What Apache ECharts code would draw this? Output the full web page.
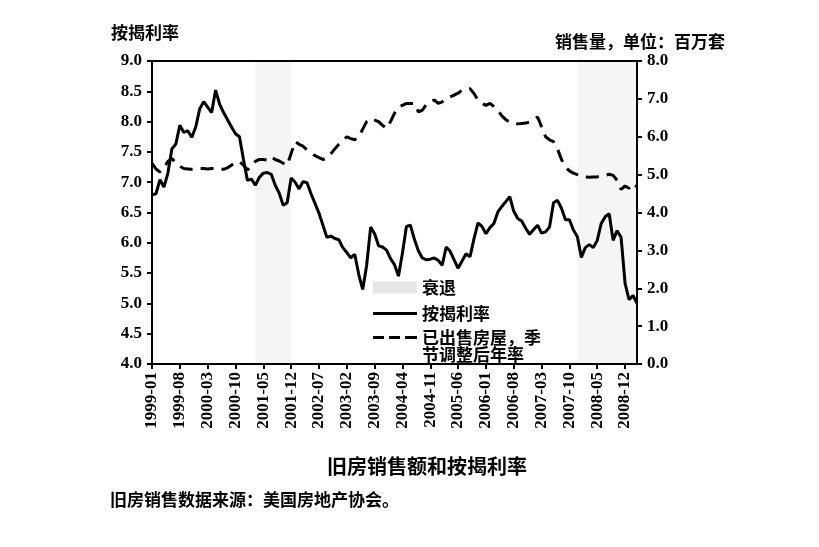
<!DOCTYPE html>
<html>
<head>
<meta charset="utf-8">
<script src="https://cdn.jsdelivr.net/npm/echarts@6/dist/echarts.min.js"></script>
<style>
  html, body { margin: 0; padding: 0; background: #fff; }
  #chart { width: 819px; height: 547px; }
</style>
</head>
<body>
<div id="chart"></div>
<script>
// 月份 1999-01 .. 2009-03
const months = [];
for (let y = 1999; y <= 2009; y++) {
  for (let m = 1; m <= 12; m++) {
    if (y === 2009 && m > 3) break;
    months.push(y + '-' + (m < 10 ? '0' + m : m));
  }
}

// 按揭利率 (%)
const mortgageRate = [
  6.79, 6.81, 7.04, 6.92, 7.15, 7.55, 7.63, 7.94, 7.82, 7.85, 7.74, 7.91,
  8.21, 8.33, 8.24, 8.15, 8.52, 8.29, 8.15, 8.03, 7.91, 7.80, 7.75, 7.38,
  7.03, 7.05, 6.95, 7.08, 7.15, 7.16, 7.13, 6.95, 6.82, 6.62, 6.66, 7.07,
  7.00, 6.89, 7.01, 6.99, 6.81, 6.65, 6.49, 6.29, 6.09, 6.11, 6.07, 6.05,
  5.92, 5.84, 5.75, 5.81, 5.48, 5.23, 5.63, 6.26, 6.15, 5.95, 5.93, 5.88,
  5.74, 5.64, 5.45, 5.83, 6.27, 6.29, 6.06, 5.87, 5.75, 5.72, 5.73, 5.75,
  5.71, 5.63, 5.93, 5.86, 5.72, 5.58, 5.70, 5.82, 5.77, 6.07, 6.33, 6.27,
  6.15, 6.25, 6.32, 6.51, 6.60, 6.68, 6.76, 6.52, 6.40, 6.36, 6.24, 6.14,
  6.22, 6.29, 6.16, 6.18, 6.26, 6.66, 6.70, 6.57, 6.38, 6.38, 6.21, 6.10,
  5.76, 5.92, 5.97, 5.92, 6.04, 6.32, 6.43, 6.48, 6.04, 6.20, 6.09, 5.33,
  5.06, 5.13, 5.00
];

// 已出售房屋，季节调整后年率 (百万套)
const homeSales = [
  5.30, 5.15, 5.07, 5.18, 5.35, 5.43, 5.30, 5.22, 5.16, 5.15, 5.14, 5.15,
  5.16, 5.16, 5.15, 5.16, 5.16, 5.14, 5.14, 5.18, 5.25, 5.32, 5.34, 5.25,
  5.12, 5.25, 5.35, 5.40, 5.40, 5.38, 5.47, 5.40, 5.36, 5.30, 5.25, 5.56,
  5.87, 5.80, 5.75, 5.65, 5.58, 5.50, 5.45, 5.40, 5.43, 5.55, 5.68, 5.80,
  5.90, 6.00, 5.95, 5.92, 6.00, 6.20, 6.40, 6.48, 6.44, 6.40, 6.30, 6.22,
  6.40, 6.62, 6.78, 6.83, 6.88, 6.88, 6.88, 6.66, 6.70, 6.85, 6.92, 6.97,
  6.88, 6.92, 7.01, 7.05, 7.10, 7.15, 7.23, 7.26, 7.27, 7.14, 6.97, 6.88,
  6.83, 6.88, 6.80, 6.70, 6.55, 6.45, 6.39, 6.35, 6.34, 6.35, 6.36, 6.39,
  6.44, 6.52, 6.26, 6.00, 5.92, 5.87, 5.68, 5.40, 5.20, 5.10, 5.04, 5.00,
  4.97, 4.94, 4.93, 4.94, 4.94, 4.96, 4.98, 5.01, 4.98, 4.85, 4.61, 4.70,
  4.64, 4.77, 4.68
];

// 衰退区间
const recessions = [
  ['2001-03', '2001-12'],
  ['2007-12', '2009-03']
];

const cjk = '"Noto Sans CJK SC", sans-serif';
const serif = '"Liberation Serif", "DejaVu Serif", serif';
const legendText = { fontFamily: cjk, fontSize: 17, fontWeight: 'bold', color: '#000', lineHeight: 17 };

const chart = echarts.init(document.getElementById('chart'));

chart.setOption({
  animation: false,
  backgroundColor: '#fff',
  grid: {
    left: 152, right: 182, top: 61, bottom: 183,
    show: true, borderColor: '#000', borderWidth: 2, backgroundColor: 'transparent'
  },
  title: {
    text: '旧房销售额和按揭利率',
    left: 422, top: 451, textAlign: 'center',
    textStyle: { fontFamily: cjk, fontSize: 20, fontWeight: 'bold', color: '#000' }
  },
  graphic: [{
    type: 'text', left: 110, top: 491,
    style: { text: '旧房销售数据来源：美国房地产协会。', font: 'bold 17px ' + cjk, fill: '#000' }
  }],
  legend: [{
    orient: 'vertical', left: 373, top: 279, padding: 0,
    itemWidth: 44, itemHeight: 12, itemGap: 9,
    data: [
      { name: '衰退', icon: 'rect', itemStyle: { color: '#e6e6e6' } },
      { name: '按揭利率', icon: 'path://M0,0H44V3H0Z' }
    ],
    textStyle: legendText
  }, {
    // 首行留空，使虚线图例与第一行文字对齐
    orient: 'vertical', left: 373, top: 312, padding: 0,
    itemWidth: 44, itemHeight: 12,
    data: [{
      name: '已出售房屋，季节调整后年率',
      icon: 'path://M0,0h11v3h-11z M16,0h11v3h-11z M32,0h12v3h-12z'
    }],
    formatter: () => ' \n已出售房屋，季\n节调整后年率',
    textStyle: legendText
  }],
  xAxis: {
    type: 'category', data: months, boundaryGap: false,
    axisLine: { lineStyle: { color: '#000', width: 2 } },
    axisTick: { interval: 6, length: 5, lineStyle: { color: '#000', width: 2 } },
    axisLabel: {
      interval: 6, rotate: 90, margin: 8,
      fontFamily: serif, fontSize: 17, fontWeight: 'bold', color: '#000'
    },
    splitLine: { show: false }
  },
  yAxis: [{
    type: 'value', min: 4, max: 9, interval: 0.5, position: 'left',
    name: '按揭利率', nameGap: 20,
    nameTextStyle: { fontFamily: cjk, fontSize: 17, fontWeight: 'bold', color: '#000', padding: [0, 14, 0, 0] },
    axisLine: { show: true, lineStyle: { color: '#000', width: 2 } },
    axisTick: { show: true, length: 5, lineStyle: { color: '#000', width: 2 } },
    axisLabel: {
      margin: 10, formatter: v => v.toFixed(1),
      fontFamily: serif, fontSize: 17, fontWeight: 'bold', color: '#000'
    },
    splitLine: { show: false }
  }, {
    type: 'value', min: 0, max: 8, interval: 1, position: 'right',
    name: '销售量，单位：百万套', nameGap: 11,
    nameTextStyle: { fontFamily: cjk, fontSize: 17, fontWeight: 'bold', color: '#000', padding: [0, 0, 0, 6] },
    axisLine: { show: true, lineStyle: { color: '#000', width: 2 } },
    axisTick: { show: true, length: 5, lineStyle: { color: '#000', width: 2 } },
    axisLabel: {
      margin: 10, formatter: v => v.toFixed(1),
      fontFamily: serif, fontSize: 17, fontWeight: 'bold', color: '#000'
    },
    splitLine: { show: false }
  }],
  series: [{
    name: '衰退', type: 'line', data: [], symbol: 'none',
    markArea: {
      silent: true,
      itemStyle: { color: 'rgba(0,0,0,0.04)' },
      data: recessions.map(r => [{ xAxis: r[0] }, { xAxis: r[1] }])
    }
  }, {
    name: '按揭利率', type: 'line', yAxisIndex: 0, data: mortgageRate,
    symbol: 'none', lineStyle: { color: '#000', width: 3 }, itemStyle: { color: '#000' }
  }, {
    name: '已出售房屋，季节调整后年率', type: 'line', yAxisIndex: 1, data: homeSales,
    symbol: 'none', lineStyle: { color: '#000', width: 3, type: [13, 8] }, itemStyle: { color: '#000' }
  }]
});
</script>
</body>
</html>
